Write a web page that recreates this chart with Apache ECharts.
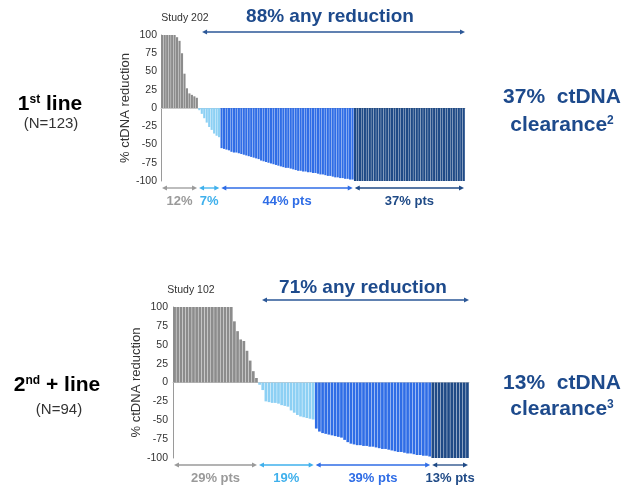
<!DOCTYPE html>
<html>
<head>
<meta charset="utf-8">
<script src="https://cdn.jsdelivr.net/npm/echarts@6/dist/echarts.min.js"></script>
<style>
  html, body { margin: 0; padding: 0; background: #ffffff; }
  #chart { width: 631px; height: 489px; }
</style>
</head>
<body>
<div id="chart"></div>
<script>
// ---- 1st line cohort (Study 202, N=123): % ctDNA change per patient, sorted ----
const firstGray  = [100, 100, 100, 100, 100, 100, 97, 92, 75, 47, 27, 20, 18, 16, 14];
const firstLight = [-3, -8, -14, -20, -26, -30, -35, -38, -40];
const firstMid   = [-55, -56, -57, -58, -60, -61, -61, -62, -63, -64, -65, -66, -67, -68, -69, -70,
                    -72, -73, -74, -75, -76, -77, -78, -79, -80, -81, -82, -82, -83, -84, -85, -86,
                    -86, -87, -87, -88, -88, -89, -89, -90, -91, -91, -92, -93, -93, -94, -95, -95,
                    -96, -96, -97, -97, -98, -98];
const firstDark  = [-100, -100, -100, -100, -100, -100, -100, -100, -100, -100, -100, -100, -100, -100, -100,
                    -100, -100, -100, -100, -100, -100, -100, -100, -100, -100, -100, -100, -100, -100, -100,
                    -100, -100, -100, -100, -100, -100, -100, -100, -100, -100, -100, -100, -100, -100, -100];

// ---- 2nd + line cohort (Study 102, N=94) ----
const secondGray  = [100, 100, 100, 100, 100, 100, 100, 100, 100, 100, 100, 100, 100, 100, 100, 100, 100, 100, 100,
                     81, 68, 57, 55, 42, 29, 15, 6];
const secondLight = [-3, -10, -25, -26, -27, -27, -28, -30, -31, -32, -37, -40, -43, -45, -46, -47, -48, -49];
const secondMid   = [-61, -65, -67, -68, -69, -70, -71, -72, -73, -76, -79, -81, -82, -83, -83, -84, -84, -85,
                     -85, -86, -87, -88, -88, -89, -90, -91, -92, -92, -93, -94, -94, -95, -96, -96, -97, -97, -98];
const secondDark  = [-100, -100, -100, -100, -100, -100, -100, -100, -100, -100, -100, -100];

// group labels under each waterfall
const firstGroupLabels  = ['12%', '7%', '44% pts', '37% pts'];
const secondGroupLabels = ['29% pts', '19%', '39% pts', '13% pts'];

const yTicks = [100, 75, 50, 25, 0, -25, -50, -75, -100];

// ---- styling ----
const groupColors = ['#8c8c8c', '#8dd0f4', '#2f6de6', '#1f4a86'];
const arrowColors = ['#9a9a9a', '#3fb0ec', '#2f6de6', '#1f4a86'];
const navy = '#1d4a8c';
const FONT = 'Arial, "Liberation Sans", sans-serif';

function buildBars(groups) {
  const out = [];
  groups.forEach((g, gi) => g.forEach(v => out.push({ value: v, itemStyle: { color: groupColors[gi] } })));
  return out;
}

const firstGroups = [firstGray, firstLight, firstMid, firstDark];
const secondGroups = [secondGray, secondLight, secondMid, secondDark];
const firstData = buildBars(firstGroups);
const secondData = buildBars(secondGroups);

const chart = echarts.init(document.getElementById('chart'), null, { renderer: 'canvas' });

function yAxis(gridIndex, nameGap, margin) {
  return {
    type: 'value', gridIndex,
    min: yTicks[yTicks.length - 1], max: yTicks[0], interval: yTicks[0] - yTicks[1],
    name: '% ctDNA reduction', nameLocation: 'middle', nameGap,
    nameTextStyle: { fontFamily: FONT, fontSize: 13, color: '#333' },
    axisLine: { show: true, lineStyle: { color: '#9a9a9a', width: 1 } },
    axisTick: { show: false },
    splitLine: { show: false },
    axisLabel: { fontFamily: FONT, fontSize: 10.5, color: '#333', margin }
  };
}
function xAxis(gridIndex, n) {
  return {
    type: 'category', gridIndex,
    data: Array.from({ length: n }, (_, i) => i + 1),
    axisLine: { show: true, onZero: true, lineStyle: { color: '#c8c8c8', width: 1 } },
    axisTick: { show: false }, axisLabel: { show: false }, splitLine: { show: false }
  };
}

chart.setOption({
  animation: false,
  backgroundColor: '#ffffff',
  grid: [
    { left: 161, width: 304, top: 35, height: 146 },
    { left: 173, width: 296, top: 307, height: 151 }
  ],
  xAxis: [xAxis(0, firstData.length), xAxis(1, secondData.length)],
  yAxis: [yAxis(0, 25, 4), yAxis(1, 25, 5)],
  series: [
    { type: 'bar', xAxisIndex: 0, yAxisIndex: 0, data: firstData, barCategoryGap: '14%' },
    { type: 'bar', xAxisIndex: 1, yAxisIndex: 1, data: secondData, barCategoryGap: '14%' }
  ]
});

// ---- annotations: arrows and texts placed from axis coordinates ----
function arrow(x1, x2, y, color) {
  const h = 5, w = 2.6;
  return [
    { type: 'line', shape: { x1: x1 + 2, y1: y, x2: x2 - 2, y2: y }, style: { stroke: color, lineWidth: 1.3 }, silent: true },
    { type: 'polygon', shape: { points: [[x1, y], [x1 + h, y - w], [x1 + h, y + w]] }, style: { fill: color }, silent: true },
    { type: 'polygon', shape: { points: [[x2, y], [x2 - h, y - w], [x2 - h, y + w]] }, style: { fill: color }, silent: true }
  ];
}
function text(str, x, y, font, fill, rich) {
  return {
    type: 'text', x, y, silent: true,
    style: { text: str, font, fill, align: 'center', verticalAlign: 'middle', rich }
  };
}

function panel(gi, groups, labels) {
  const els = [];
  const n = groups.reduce((s, g) => s + g.length, 0);
  const c0 = chart.convertToPixel({ xAxisIndex: gi }, 0);
  const c1 = chart.convertToPixel({ xAxisIndex: gi }, 1);
  const bw = c1 - c0;
  const edge = i => c0 - bw / 2 + i * bw;
  const yBottom = chart.convertToPixel({ yAxisIndex: gi }, yTicks[yTicks.length - 1]);
  const yTop = chart.convertToPixel({ yAxisIndex: gi }, yTicks[0]);
  let start = 0;
  const bounds = groups.map(g => { const b = [edge(start), edge(start + g.length)]; start += g.length; return b; });
  bounds.forEach((b, k) => {
    els.push(...arrow(b[0] + 1, b[1] - 1, yBottom + 7, arrowColors[k]));
    els.push(text(labels[k], (b[0] + b[1]) / 2, yBottom + 20, 'bold 13px ' + FONT, arrowColors[k]));
  });
  return { els, bounds, yTop, yBottom, right: edge(n) };
}

const p1 = panel(0, firstGroups, firstGroupLabels);
const p2 = panel(1, secondGroups, secondGroupLabels);

const bigRich = {
  b: { font: 'bold 21px ' + FONT, fill: '#000' },
  s: { font: 'bold 12px ' + FONT, fill: '#000', verticalAlign: 'top' }
};
const navyRich = {
  b: { font: 'bold 21px ' + FONT, fill: navy },
  s: { font: 'bold 12px ' + FONT, fill: navy, verticalAlign: 'top' }
};

const graphics = [
  ...p1.els, ...p2.els,
  // headline arrows over the reduction groups
  ...arrow(p1.bounds[1][0] + 4, p1.right, p1.yTop - 3, '#2b5797'),
  ...arrow(p2.bounds[1][0] + 4, p2.right, p2.yTop - 7, '#2b5797'),
  text('88% any reduction', 330, 17, 'bold 19px ' + FONT, navy),
  text('71% any reduction', 363, 288, 'bold 19px ' + FONT, navy),
  text('Study 202', 185, 18, '10.5px ' + FONT, '#333'),
  text('Study 102', 191, 290, '10.5px ' + FONT, '#333'),
  // cohort labels
  text('{b|1}{s|st}{b| line}', 50, 104, null, '#000', bigRich),
  text('(N=123)', 51, 124, '15px ' + FONT, '#333'),
  text('{b|2}{s|nd}{b| + line}', 57, 385, null, '#000', bigRich),
  text('(N=94)', 59, 410, '15px ' + FONT, '#333'),
  // clearance call-outs
  text('37%  ctDNA', 562, 97, 'bold 21px ' + FONT, navy),
  text('{b|clearance}{s|2}', 562, 125, null, navy, navyRich),
  text('13%  ctDNA', 562, 383, 'bold 21px ' + FONT, navy),
  text('{b|clearance}{s|3}', 562, 409, null, navy, navyRich)
];

chart.setOption({ graphic: { elements: graphics } });
</script>
</body>
</html>
